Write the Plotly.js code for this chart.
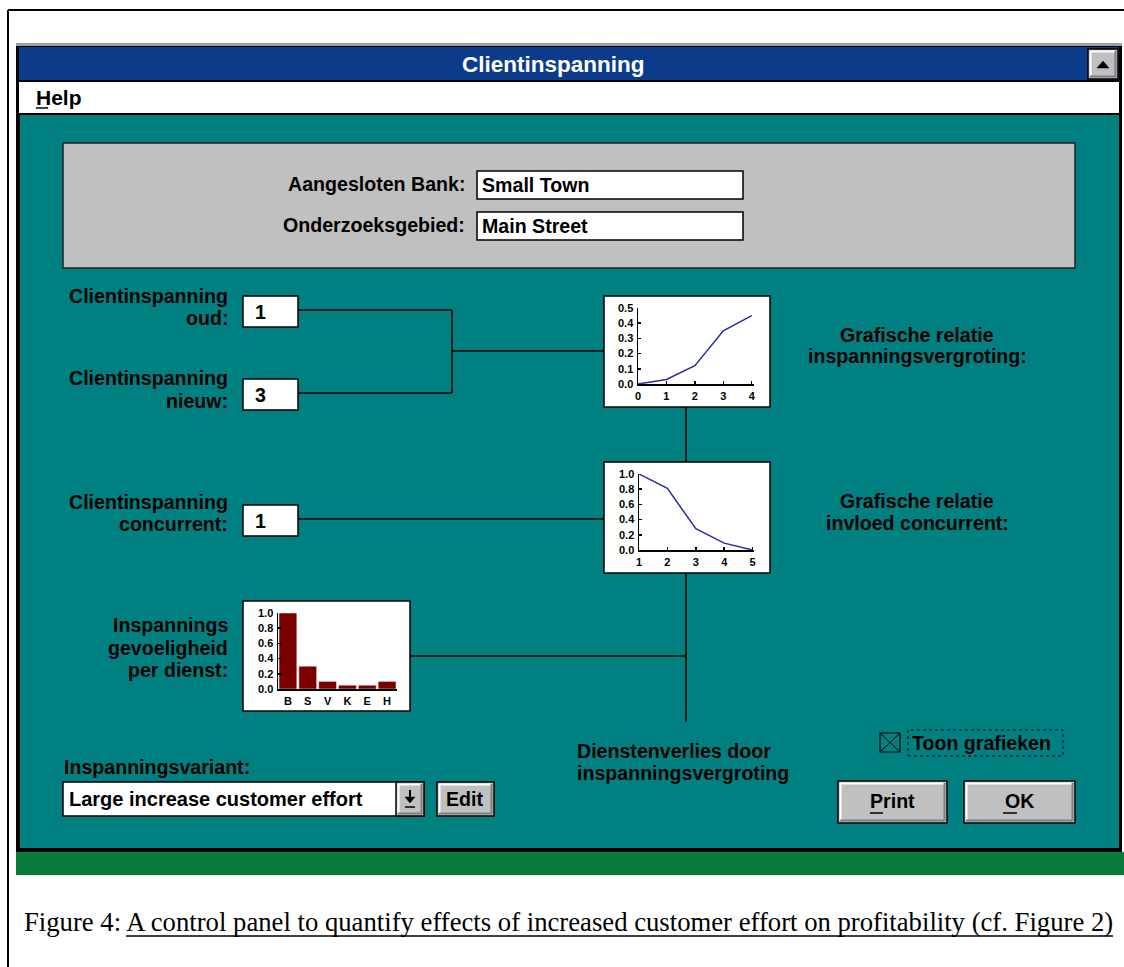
<!DOCTYPE html>
<html><head><meta charset="utf-8">
<script src="https://cdn.plot.ly/plotly-3.0.1.min.js"></script>
<style>html,body{margin:0;padding:0;background:#fff;}#chart{width:1124px;height:967px;}</style>
</head><body><div id="chart"></div>
<script>
// ---- data ----
const effortX = [0, 1, 2, 3, 4];
const effortY = [0.0, 0.03, 0.12, 0.35, 0.45];
const competitorX = [1, 2, 3, 4, 5];
const competitorY = [1.0, 0.81, 0.28, 0.09, 0.0];
const services = ['B', 'S', 'V', 'K', 'E', 'H'];
const sensitivity = [1.0, 0.3, 0.1, 0.05, 0.05, 0.1];
const effortYTicks = [0, 0.1, 0.2, 0.3, 0.4, 0.5];
const unitYTicks = [0, 0.2, 0.4, 0.6, 0.8, 1.0];

// ---- helpers ----
const W = 1124, H = 967;
const px = x => x / W;
const py = y => 1 - y / H;
const shapes = [], ann = [];
const SANS = 'Liberation Sans, Arial, sans-serif';
const SERIF = 'Liberation Serif, Times New Roman, serif';
const LBL = 19.6;
function rect(x0, y0, x1, y1, fill, lc, lw) {
  shapes.push({type: 'rect', xref: 'paper', yref: 'paper', x0: px(x0), x1: px(x1), y0: py(y1), y1: py(y0),
    fillcolor: fill || 'rgba(0,0,0,0)', line: {color: lc || 'rgba(0,0,0,0)', width: lw == null ? 0 : lw}, layer: 'below'});
}
function seg(x0, y0, x1, y1, color, w, dash) {
  shapes.push({type: 'line', xref: 'paper', yref: 'paper', x0: px(x0), x1: px(x1), y0: py(y0), y1: py(y1),
    line: {color: color || '#000', width: w || 1.5, dash: dash || 'solid'}, layer: 'below'});
}
function poly(pts, fill) {
  const d = pts.map((p, i) => (i ? 'L' : 'M') + px(p[0]) + ',' + py(p[1])).join(' ') + ' Z';
  shapes.push({type: 'path', xref: 'paper', yref: 'paper', path: d, fillcolor: fill, line: {color: fill, width: 0.5}, layer: 'below'});
}
function label(t, x, y, anchor, size, color, family) {
  ann.push({xref: 'paper', yref: 'paper', x: px(x), y: py(y), text: t, showarrow: false,
    xanchor: anchor || 'left', yanchor: 'middle', borderpad: 0,
    font: {family: family || SANS, size: size || LBL, color: color || '#000', weight: family === SERIF ? 'normal' : 'bold'}});
}
function button(x0, y0, x1, y1) {
  rect(x0, y0, x1, y1, '#c0c0c0', '#000', 1.5);
  seg(x0 + 2, y0 + 2.5, x1 - 3, y0 + 2.5, '#fff', 2);
  seg(x0 + 2.5, y0 + 2, x0 + 2.5, y1 - 3, '#fff', 2);
  seg(x0 + 2, y1 - 2.5, x1 - 2, y1 - 2.5, '#808080', 2);
  seg(x1 - 2.5, y0 + 2, x1 - 2.5, y1 - 2, '#808080', 2);
}

// ---- page frame ----
seg(8, 10, 1124, 10, '#000', 2);
seg(8, 10, 8, 967, '#000', 2);

// ---- window ----
rect(16, 44, 1122, 852, '#000', null, 0);
rect(16, 43, 1122, 46, '#a0a0a0', null, 0);
rect(19, 47, 1119, 80, '#0c3b8c', null, 0);
rect(19, 82, 1119, 113, '#ffffff', null, 0);
rect(20, 115, 1119, 848, '#008080', null, 0);
rect(16, 852, 1124, 875, '#0a7a3c', null, 0);
// title bar button
button(1088, 49, 1118, 79);
poly([[1097, 68], [1109, 68], [1103, 61]], '#000');
label('Clientinspanning', 553, 65, 'center', 22.5, '#ffffff');
label('Help', 35, 97, 'left', 21, '#000');
seg(36, 108, 48, 108, '#000', 1.5);

// ---- bank panel ----
rect(63, 143, 1075, 268, '#c0c0c0', '#202020', 1.5);
rect(477, 171, 743, 199, '#ffffff', '#000', 1.5);
rect(477, 212, 743, 240, '#ffffff', '#000', 1.5);
label('Aangesloten Bank:', 466, 184, 'right');
label('Onderzoeksgebied:', 466, 225, 'right');
label('Small Town', 481, 185, 'left');
label('Main Street', 481, 226, 'left');

// ---- input fields and labels ----
rect(243, 296, 298, 327, '#ffffff', '#000', 1.5);
rect(243, 379, 298, 410, '#ffffff', '#000', 1.5);
rect(243, 505, 298, 536, '#ffffff', '#000', 1.5);
label('1', 254, 312, 'left');
label('3', 254, 395, 'left');
label('1', 254, 521, 'left');
label('Clientinspanning', 229, 296, 'right');
label('oud:', 229, 318, 'right');
label('Clientinspanning', 229, 378, 'right');
label('nieuw:', 229, 401, 'right');
label('Clientinspanning', 229, 502, 'right');
label('concurrent:', 229, 524, 'right');
label('Inspannings', 229, 625, 'right');
label('gevoeligheid', 229, 648, 'right');
label('per dienst:', 229, 670, 'right');
label('Grafische relatie', 917, 335, 'center');
label('inspanningsvergroting:', 917, 356, 'center');
label('Grafische relatie', 917, 501, 'center');
label('invloed concurrent:', 917, 523, 'center');
label('Dienstenverlies door', 576, 751, 'left');
label('inspanningsvergroting', 576, 773, 'left');

// ---- connector lines ----
seg(298, 310, 452, 310); seg(452, 310, 452, 393); seg(298, 393, 452, 393);
seg(452, 351, 604, 351);
seg(686, 407, 686, 462);
seg(298, 519, 604, 519);
seg(686, 573, 686, 722);
seg(410, 656, 686, 656);

// ---- chart boxes ----
rect(604, 296, 770, 407, '#ffffff', '#000', 1.5);
rect(604, 462, 770, 573, '#ffffff', '#000', 1.5);
rect(243, 601, 410, 711, '#ffffff', '#000', 1.5);

// ---- checkbox ----
rect(880, 733, 900, 752, null, '#000', 1.2);
seg(880, 733, 900, 752, '#000', 1); seg(900, 733, 880, 752, '#000', 1);
rect(908, 730, 1063, 756, null, '#000', 1);
shapes[shapes.length - 1].line.dash = 'dot';
label('Toon grafieken', 911, 743, 'left');

// ---- buttons ----
button(838, 781, 947, 823);
button(964, 781, 1075, 823);
label('Print', 892, 801, 'center');
label('OK', 1019, 801, 'center');
seg(870, 813, 883, 813, '#000', 1.5);
seg(1003, 813, 1017, 813, '#000', 1.5);

// ---- variant combo ----
label('Inspanningsvariant:', 63, 767, 'left');
rect(63, 782, 424, 816, '#ffffff', '#000', 1.5);
button(396, 782, 424, 816);
seg(410, 790, 410, 799, '#000', 2);
poly([[405, 797], [415, 797], [410, 803]], '#000');
seg(405, 807, 415, 807, '#000', 1.5);
label('Large increase customer effort', 68, 799, 'left', 20);
button(437, 782, 494, 816);
label('Edit', 465, 799, 'center');

// ---- caption ----
label('Figure 4: A control panel to quantify effects of increased customer effort on profitability (cf. Figure 2)', 23, 922, 'left', 26.7, '#000', SERIF);
seg(126, 936, 1113, 936, '#000', 1.5);

// ---- axes ----
const tickFont = {family: SANS, size: 11, color: '#000', weight: 'bold'};
function ax(domain, extra) {
  return Object.assign({domain: domain, showline: true, linecolor: '#000', linewidth: 1.5, ticks: 'inside', ticklen: 3,
    tickcolor: '#000', tickwidth: 1.5, showgrid: false, zeroline: false, tickfont: tickFont, fixedrange: true, ticklabelstandoff: 1}, extra);
}

const traces = [
  {x: effortX, y: effortY, type: 'scatter', mode: 'lines', line: {color: '#2a2aa8', width: 1.5}, xaxis: 'x', yaxis: 'y', hoverinfo: 'skip'},
  {x: competitorX, y: competitorY, type: 'scatter', mode: 'lines', line: {color: '#2a2aa8', width: 1.5}, xaxis: 'x2', yaxis: 'y2', hoverinfo: 'skip'},
  {x: services, y: sensitivity, type: 'bar', marker: {color: '#7a0000', line: {color: '#ffffff', width: 0.5}}, xaxis: 'x3', yaxis: 'y3', hoverinfo: 'skip'}
];

const layout = {
  width: W, height: H, margin: {l: 0, r: 0, t: 0, b: 0},
  paper_bgcolor: '#ffffff', plot_bgcolor: 'rgba(0,0,0,0)', showlegend: false, bargap: 0.1,
  xaxis: ax([px(638), px(754)], {range: [0, 4.08], tickvals: effortX, anchor: 'y'}),
  yaxis: ax([py(384), py(308)], {range: [0, 0.5], tickvals: effortYTicks, tickformat: '.1f', anchor: 'x'}),
  xaxis2: ax([px(639), px(754)], {range: [1, 5.05], tickvals: competitorX, anchor: 'y2'}),
  yaxis2: ax([py(550), py(474)], {range: [0, 1], tickvals: unitYTicks, tickformat: '.1f', anchor: 'x2'}),
  xaxis3: ax([px(278), px(397)], {type: 'category', categoryarray: services, range: [-0.5, 5.5], ticks: '', anchor: 'y3'}),
  yaxis3: ax([py(689), py(613)], {range: [0, 1], tickvals: unitYTicks, tickformat: '.1f', anchor: 'x3'}),
  shapes: shapes, annotations: ann
};

Plotly.newPlot('chart', traces, layout, {displayModeBar: false, staticPlot: true});
</script></body></html>
